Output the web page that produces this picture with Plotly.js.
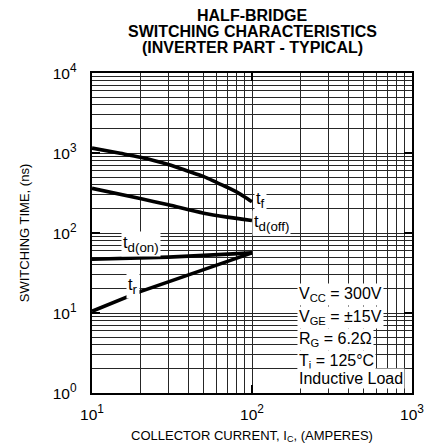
<!DOCTYPE html>
<html>
<head>
<meta charset="utf-8">
<script src="https://cdn.plot.ly/plotly-3.0.1.min.js"></script>
<style>html,body{margin:0;padding:0;background:#fff;}</style>
</head>
<body>
<div id="chart" style="width:438px;height:445px;"></div>
<script>
// ---- data ----
const TITLE_LINES = ["HALF-BRIDGE", "SWITCHING CHARACTERISTICS", "(INVERTER PART - TYPICAL)"];
const X_TITLE = "COLLECTOR CURRENT, I<sub>C</sub>, (AMPERES)";
const Y_TITLE = "SWITCHING TIME, (ns)";

const X_TICKS = [10, 100, 1000];
const X_EXP = ["1", "2", "3"];
const Y_TICKS = [1, 10, 100, 1000, 10000];
const Y_EXP = ["0", "1", "2", "3", "4"];

const I_TF = [10, 15, 20, 30, 40, 50, 60, 70, 80, 90, 100];
const T_F  = [1150, 990, 885, 720, 592, 506, 428, 372, 326, 282, 246];

const I_TDOFF = [10, 20, 30, 50, 70, 100];
const T_DOFF  = [362, 270, 225, 177, 158, 143];

const I_TDON = [10, 20, 30, 50, 70, 100];
const T_DON  = [47, 48.5, 50, 52.5, 54.5, 56.5];

const I_TR = [10, 20, 30, 50, 70, 100];
const T_R  = [10.5, 18.5, 24.5, 35, 44, 56.5];

const CURVE_BASE = ["t", "t", "t", "t"];
const CURVE_SUB = ["f", "d(off)", "d(on)", "r"];
const COND_BASE = ["V", "V", "R", "T", "Inductive Load"];
const COND_SUB = ["CC", "GE", "G", "j", ""];
const COND_REST = [" = 300V", " = ±15V", " = 6.2Ω", " = 125°C", ""];

// ---- geometry helpers ----
const FONT = "Liberation Sans, Arial, Helvetica, sans-serif";
const L = 92, R = 26, T = 73, B = 52, W = 438, H = 445;
const PW = W - L - R, PH = H - T - B;
const px2paperX = px => (px - L) / PW;
const px2paperY = py => (T + PH - py) / PH;
const sized = (s, size) => "<span style='font-size:" + size + "px'>" + s + "</span>";

function minorVals(lo, hi) {
  const out = [];
  for (let d = lo; d < hi; d++) for (let m = 2; m <= 9; m++) out.push(m * Math.pow(10, d));
  return out;
}

const line = {color: "#000", width: 3.6};
const traces = [
  {x: I_TF, y: T_F, mode: "lines", line: Object.assign({shape: "spline", smoothing: 0.8}, line), name: "tf", hoverinfo: "skip"},
  {x: I_TDOFF, y: T_DOFF, mode: "lines", line: Object.assign({shape: "spline", smoothing: 0.8}, line), name: "td(off)", hoverinfo: "skip"},
  {x: I_TDON, y: T_DON, mode: "lines", line: line, name: "td(on)", hoverinfo: "skip"},
  {x: I_TR, y: T_R, mode: "lines", line: line, name: "tr", hoverinfo: "skip"}
];

const gridC = "#262626";
function axisCommon() {
  return {
    type: "log", showgrid: true, gridcolor: gridC, gridwidth: 1,
    showline: true, linecolor: "#000", linewidth: 2, mirror: "ticks",
    ticks: "inside", ticklen: 8, tickwidth: 2, tickcolor: "#000",
    tickfont: {family: FONT, size: 17, color: "#000"},
    zeroline: false, fixedrange: true
  };
}
// "10" at 15.5px, exponent at 70% of 17px
const tickLabel = e => sized("10", 15.5) + "<sup>" + e + "</sup>";

const xaxis = Object.assign(axisCommon(), {
  range: [1, 3], tickmode: "array", tickvals: X_TICKS, ticktext: X_EXP.map(tickLabel),
  ticklabelstandoff: 5,
  minor: {tickmode: "array", tickvals: minorVals(1, 3), showgrid: true, gridcolor: gridC, gridwidth: 1, ticks: ""},
  title: {text: X_TITLE, font: {family: FONT, size: 13, color: "#000"}, standoff: 8}
});
const yaxis = Object.assign(axisCommon(), {
  range: [0, 4], tickmode: "array", tickvals: Y_TICKS, ticktext: Y_EXP.map(tickLabel),
  ticklabelstandoff: 10,
  minor: {tickmode: "array", tickvals: minorVals(0, 4), showgrid: true, gridcolor: gridC, gridwidth: 1, ticks: ""},
  title: {text: Y_TITLE, font: {family: FONT, size: 13, color: "#000"}, standoff: 20}
});

// white panel behind the test-condition text
const shapes = [{
  type: "rect", xref: "paper", yref: "paper",
  x0: px2paperX(297), x1: px2paperX(386), y0: px2paperY(388), y1: px2paperY(285),
  fillcolor: "#fff", line: {width: 0}, layer: "between"
}];

const annotations = [];
const titleY = [15.5, 31.5, 47.5];
TITLE_LINES.forEach((t, i) => annotations.push({
  text: "<b>" + t + "</b>", xref: "paper", yref: "paper", x: px2paperX(252), y: px2paperY(titleY[i]),
  xanchor: "center", yanchor: "middle", showarrow: false,
  font: {family: FONT, size: 16, color: "#000"}
}));

// curve labels: base letter 16.5px, subscript 70% of 19px
const labelPos = [[254, 200], [252, 223], [121, 244], [126, 286]];
CURVE_BASE.forEach((t, i) => annotations.push({
  text: sized(t, 16.5) + "<sub>" + CURVE_SUB[i] + "</sub>", xref: "paper", yref: "paper",
  x: px2paperX(labelPos[i][0]), y: px2paperY(labelPos[i][1]),
  xanchor: "left", yanchor: "middle", showarrow: false, bgcolor: "#fff", borderpad: 1,
  font: {family: FONT, size: 19, color: "#000"}
}));

// test conditions
const condY = [294, 317, 339, 361, 378.5];
COND_BASE.forEach((t, i) => annotations.push({
  text: t + (COND_SUB[i] ? "<sub>" + COND_SUB[i] + "</sub>" : "") + COND_REST[i], xref: "paper", yref: "paper",
  x: px2paperX(297), y: px2paperY(condY[i]),
  xanchor: "left", yanchor: "middle", showarrow: false, bgcolor: "#fff", borderpad: 1,
  font: {family: FONT, size: 16, color: "#000"}
}));

const layout = {
  width: W, height: H,
  margin: {l: L, r: R, t: T, b: B, pad: 0},
  paper_bgcolor: "#fff", plot_bgcolor: "#fff",
  showlegend: false,
  font: {family: FONT, color: "#000"},
  xaxis: xaxis, yaxis: yaxis,
  shapes: shapes, annotations: annotations
};

Plotly.newPlot("chart", traces, layout, {staticPlot: true, displayModeBar: false});
</script>
</body>
</html>
